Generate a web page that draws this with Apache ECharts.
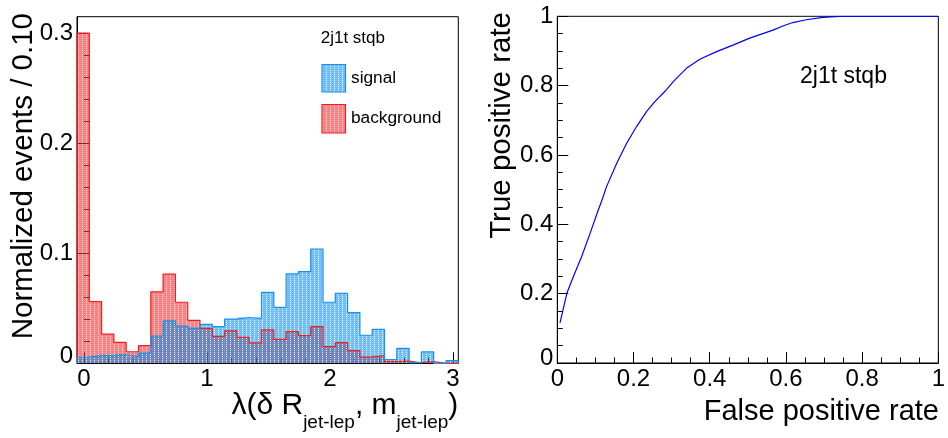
<!DOCTYPE html>
<html>
<head>
<meta charset="utf-8">
<script src="https://cdn.jsdelivr.net/npm/echarts@6/dist/echarts.min.js"></script>
<style>
  html, body { margin: 0; padding: 0; background: #ffffff; }
  #chart { width: 948px; height: 438px; }
</style>
</head>
<body>
<div id="chart"></div>
<script>
const FONT = '"Liberation Sans", Arial, Helvetica, sans-serif';

// ---- λ(δR, m) histogram: 31 bins of width 0.10 ----
const histMin = -0.057;
const binWidth = 0.1;
const signal = [
  0.0055, 0.0069, 0.0069, 0.0078, 0.0060, 0.0093, 0.0248, 0.0385, 0.0338, 0.0318,
  0.0354, 0.0333, 0.0402, 0.0416, 0.0408, 0.0645, 0.0509, 0.0812, 0.0833, 0.1039,
  0.0555, 0.0636, 0.0460, 0.0255, 0.0309, 0.0033, 0.0136, 0.0006, 0.0103, 0.0000, 0.0024
];
const background = [
  0.3000, 0.0560, 0.0266, 0.0190, 0.0105, 0.0160, 0.0650, 0.0810, 0.0555, 0.0390,
  0.0318, 0.0245, 0.0295, 0.0236, 0.0185, 0.0303, 0.0218, 0.0287, 0.0251, 0.0333,
  0.0151, 0.0187, 0.0115, 0.0057, 0.0069, 0.0015, 0.0020, 0.0005, 0.0015, 0.0000, 0.0000
];
const histMax = histMin + signal.length * binWidth;
const histYMax = 0.315;
const xMajorTicks = [0, 1, 2, 3];
const xMinorTicks = [0.2, 0.4, 0.6, 0.8, 1.2, 1.4, 1.6, 1.8, 2.2, 2.4, 2.6, 2.8];
const yMajorTicks = [0, 0.1, 0.2, 0.3];
const yMinorTicks = [0.02, 0.04, 0.06, 0.08, 0.12, 0.14, 0.16, 0.18, 0.22, 0.24, 0.26, 0.28];

// ---- ROC curve ----
const fpr = [0.007, 0.014, 0.025, 0.042, 0.064, 0.086, 0.107, 0.116, 0.129, 0.156,
             0.182, 0.208, 0.234, 0.256, 0.282, 0.308, 0.339, 0.374, 0.418, 0.461,
             0.505, 0.566, 0.592, 0.618, 0.653, 0.697, 0.741, 0.800, 0.900, 1.000];
const tpr = [0.116, 0.148, 0.201, 0.249, 0.307, 0.374, 0.440, 0.466, 0.508, 0.576,
             0.634, 0.682, 0.725, 0.754, 0.783, 0.816, 0.850, 0.876, 0.898, 0.917,
             0.937, 0.960, 0.972, 0.982, 0.990, 0.997, 0.9995, 1.000, 1.000, 1.000];

// dotted hatch fill, like ROOT's fill patterns
function hatch(base, dot) {
  const c = document.createElement('canvas');
  c.width = 4; c.height = 2;
  const g = c.getContext('2d');
  g.fillStyle = base; g.fillRect(0, 0, 4, 2);
  g.clearRect(2, 0, 1, 1);
  g.fillStyle = dot; g.fillRect(2, 0, 1, 1);
  return { image: c, repeat: 'repeat' };
}
const bgFill = hatch('rgba(238,50,50,0.6)', 'rgba(255,215,215,0.85)');
const sigFill = hatch('rgba(0,137,237,0.55)', 'rgba(235,245,255,0.7)');
const bgLineColor = '#f02020';
const sigLineColor = '#1890f0';

function bins(values) {
  return values.map((v, i) => [histMin + i * binWidth, histMin + (i + 1) * binWidth, v]);
}
function outline(values) {
  const pts = [[histMin, 0]];
  values.forEach((v, i) => pts.push([histMin + i * binWidth, v]));
  pts.push([histMax, values[values.length - 1]]);
  pts.push([histMax, 0]);
  return pts;
}
function barRenderer(fill) {
  return function (params, api) {
    const a = api.coord([api.value(0), 0]);
    const b = api.coord([api.value(1), api.value(2)]);
    return {
      type: 'rect',
      shape: { x: a[0], y: b[1], width: b[0] - a[0], height: a[1] - b[1] },
      style: { fill: fill }
    };
  };
}

const labelStyle = { fontFamily: FONT, fontSize: 24, color: '#000' };
const zeroRich = (shift) => ({ z: { fontFamily: FONT, fontSize: 24, color: '#000', padding: [0, 0, shift, 0] } });

const chart = echarts.init(document.getElementById('chart'), null, { renderer: 'canvas' });
chart.setOption({
  animation: false,
  backgroundColor: '#ffffff',
  grid: [
    { left: 77, right: 489.7, top: 16.7, bottom: 74.7, show: true, borderColor: '#000', borderWidth: 1, backgroundColor: 'transparent' },
    { left: 557.3, right: 9, top: 16.3, bottom: 75, show: true, borderColor: '#000', borderWidth: 1, backgroundColor: 'transparent' }
  ],
  xAxis: [
    {
      type: 'value', gridIndex: 0, position: 'bottom', min: histMin, max: histMax,
      axisLine: { show: true, onZero: false, lineStyle: { color: '#000', width: 1 } },
      axisTick: { show: true, inside: true, length: 11, customValues: xMajorTicks, lineStyle: { color: '#000' } },
      axisLabel: Object.assign({ margin: 4, customValues: xMajorTicks, formatter: v => String(v) }, labelStyle),
      splitLine: { show: false }
    },
    {
      type: 'value', gridIndex: 0, position: 'bottom', min: histMin, max: histMax,
      axisLine: { show: false },
      axisTick: { show: true, inside: true, length: 5.5, customValues: xMinorTicks, lineStyle: { color: '#000' } },
      axisLabel: { show: false },
      splitLine: { show: false }
    },
    {
      type: 'value', gridIndex: 1, position: 'bottom', min: 0, max: 1, interval: 0.2,
      axisLine: { show: true, onZero: false, lineStyle: { color: '#000', width: 1 } },
      axisTick: { show: true, inside: true, length: 11, lineStyle: { color: '#000' } },
      minorTick: { show: true, splitNumber: 4, length: 5.5, lineStyle: { color: '#000' } },
      axisLabel: Object.assign({ margin: 4 }, labelStyle),
      splitLine: { show: false }
    }
  ],
  yAxis: [
    {
      type: 'value', gridIndex: 0, position: 'left', min: 0, max: histYMax,
      axisLine: { show: true, onZero: false, lineStyle: { color: '#000', width: 1 } },
      axisTick: { show: true, inside: true, length: 12, customValues: yMajorTicks, lineStyle: { color: '#000' } },
      axisLabel: Object.assign({
        margin: 4, customValues: yMajorTicks,
        formatter: v => (v === 0 ? '{z|0}' : String(v)),
        rich: zeroRich(14)
      }, labelStyle),
      splitLine: { show: false }
    },
    {
      type: 'value', gridIndex: 0, position: 'left', min: 0, max: histYMax,
      axisLine: { show: false },
      axisTick: { show: true, inside: true, length: 6, customValues: yMinorTicks, lineStyle: { color: '#000' } },
      axisLabel: { show: false },
      splitLine: { show: false }
    },
    {
      type: 'value', gridIndex: 1, position: 'left', min: 0, max: 1, interval: 0.2,
      axisLine: { show: true, onZero: false, lineStyle: { color: '#000', width: 1 } },
      axisTick: { show: true, inside: true, length: 11, lineStyle: { color: '#000' } },
      minorTick: { show: true, splitNumber: 4, length: 5.5, lineStyle: { color: '#000' } },
      axisLabel: Object.assign({
        margin: 4,
        formatter: v => (v === 0 ? '{z|0}' : String(v)),
        rich: zeroRich(9)
      }, labelStyle),
      splitLine: { show: false }
    }
  ],
  series: [
    {
      name: 'background', type: 'custom', xAxisIndex: 0, yAxisIndex: 0, clip: true,
      renderItem: barRenderer(bgFill), encode: { x: [0, 1], y: 2 }, data: bins(background)
    },
    {
      name: 'background outline', type: 'line', xAxisIndex: 0, yAxisIndex: 0, step: 'end',
      symbol: 'none', clip: true, lineStyle: { color: bgLineColor, width: 1.2 }, data: outline(background)
    },
    {
      name: 'signal', type: 'custom', xAxisIndex: 0, yAxisIndex: 0, clip: true,
      renderItem: barRenderer(sigFill), encode: { x: [0, 1], y: 2 }, data: bins(signal)
    },
    {
      name: 'signal outline', type: 'line', xAxisIndex: 0, yAxisIndex: 0, step: 'end',
      symbol: 'none', clip: true, lineStyle: { color: sigLineColor, width: 1.2 }, data: outline(signal)
    },
    {
      name: 'ROC', type: 'line', xAxisIndex: 2, yAxisIndex: 2, symbol: 'none', clip: true,
      lineStyle: { color: '#0000ff', width: 1.2 },
      data: fpr.map((x, i) => [x, tpr[i]])
    }
  ],
  graphic: [
    // axis titles
    {
      type: 'text', x: 24, y: 13, rotation: Math.PI / 2,
      style: { text: 'Normalized events / 0.10', fontFamily: FONT, fontSize: 29.5, fill: '#000', align: 'right', verticalAlign: 'middle' }
    },
    {
      // subscripts are lowered through top padding on their tokens
      type: 'text', x: 458.3, y: 391,
      style: {
        text: '{m|λ(δ R}{s|jet-lep}{m|, m}{s|jet-lep}{m|)}',
        align: 'right', verticalAlign: 'top',
        rich: {
          m: { fontFamily: FONT, fontSize: 30, lineHeight: 30, fill: '#000' },
          s: { fontFamily: FONT, fontSize: 19, lineHeight: 19, fill: '#000', padding: [34, 0, 0, 0] }
        }
      }
    },
    {
      type: 'text', x: 502, y: 12, rotation: Math.PI / 2,
      style: { text: 'True positive rate', fontFamily: FONT, fontSize: 29.5, fill: '#000', align: 'right', verticalAlign: 'middle' }
    },
    {
      type: 'text', x: 939, y: 412,
      style: { text: 'False positive rate', fontFamily: FONT, fontSize: 29, fill: '#000', align: 'right', verticalAlign: 'middle' }
    },
    // legend of the histogram panel
    {
      type: 'text', x: 320.7, y: 38.3,
      style: { text: '2j1t stqb', fontFamily: FONT, fontSize: 17, fill: '#000', align: 'left', verticalAlign: 'middle' }
    },
    {
      type: 'rect', shape: { x: 322, y: 64.5, width: 23.5, height: 27.5 },
      style: { fill: sigFill, stroke: sigLineColor, lineWidth: 1.2 }
    },
    {
      type: 'text', x: 351, y: 78.3,
      style: { text: 'signal', fontFamily: FONT, fontSize: 17.3, fill: '#000', align: 'left', verticalAlign: 'middle' }
    },
    {
      type: 'rect', shape: { x: 322, y: 104.5, width: 23.5, height: 28.5 },
      style: { fill: bgFill, stroke: bgLineColor, lineWidth: 1.2 }
    },
    {
      type: 'text', x: 351, y: 118.3,
      style: { text: 'background', fontFamily: FONT, fontSize: 17.3, fill: '#000', align: 'left', verticalAlign: 'middle' }
    },
    // ROC panel label
    {
      type: 'text', x: 800, y: 76.5,
      style: { text: '2j1t stqb', fontFamily: FONT, fontSize: 23, fill: '#000', align: 'left', verticalAlign: 'middle' }
    }
  ]
});
</script>
</body>
</html>
